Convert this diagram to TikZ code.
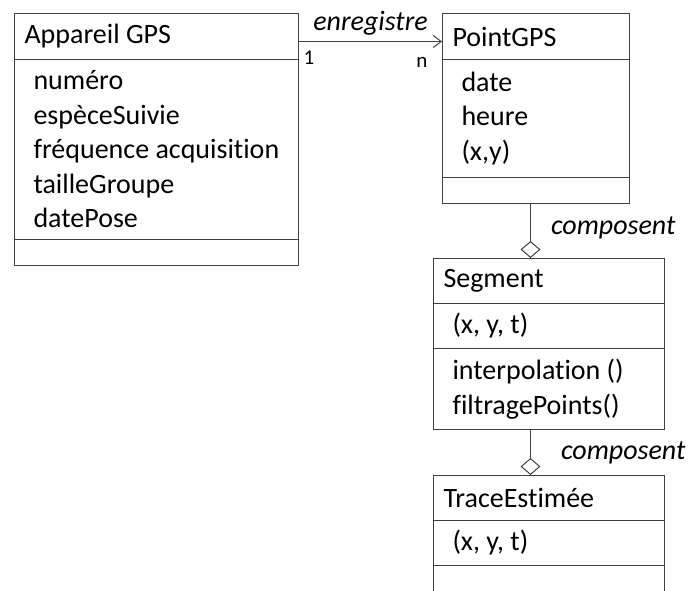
\documentclass[tikz,border=0pt]{standalone}
\usepackage{fontspec}
\setmainfont{Carlito}[Ligatures={NoCommon,NoContextual}]
\usepackage{tikz}
\usetikzlibrary{arrows.meta}
\newcommand{\umlsize}{\fontsize{28}{34.5}\selectfont}
\newcommand{\multsize}{\fontsize{21}{23}\selectfont}

\begin{document}
\begin{tikzpicture}[
  x=1pt, y=-1pt, line width=1pt,
  every node/.style={font=\umlsize, inner ysep=0pt},
  hd/.style={draw=black!75, anchor=north west, align=flush left,
             inner xsep=10pt, text width=#1},
  cp/.style={draw=black!75, anchor=north west, align=flush left,
             inner xsep=19pt, text width=#1},
  lbl/.style={font=\umlsize\itshape, inner sep=0pt},
  num/.style={font=\multsize, inner sep=0pt},
  >={Straight Barb[length=8pt,width=12pt]}
]
\clip (0,0) rectangle (692,590);
\node[hd=264pt, minimum height=46pt]  (appname) at (14,13)  {Appareil GPS};
\node[cp=246pt, minimum height=180pt] (appattr) at (14,59)  {numéro\\ espèceSuivie\\ fréquence acquisition\\ tailleGroupe\\ datePose};
\node[cp=246pt, minimum height=26pt]  (appops)  at (14,239) {};
\node[hd=167pt, minimum height=46pt]  (ptname)  at (442,13)  {PointGPS};
\node[cp=149pt, minimum height=118pt] (ptattr)  at (442,59)  {date\\ heure\\ (x,y)};
\node[cp=149pt, minimum height=26pt]  (ptops)   at (442,177) {};
\node[hd=211pt, minimum height=45pt]  (segname) at (433,258) {Segment};
\node[cp=193pt, minimum height=45pt]  (segattr) at (433,303) {(x, y, t)};
\node[cp=193pt, minimum height=81pt]  (segops)  at (433,348) {interpolation ()\\ filtragePoints()};
\node[hd=211pt, minimum height=45pt]  (trname)  at (433,475) {TraceEstimée};
\node[cp=193pt, minimum height=45pt]  (trattr)  at (433,520) {(x, y, t)};
\node[cp=193pt, minimum height=40pt]  (trops)   at (433,565) {};
\draw[->, black!75] ([yshift=-5pt]appname.east) -- ([yshift=-5pt]ptname.west)
  node[lbl, text=black, midway, above=6pt] {enregistre}
  node[num, text=black, pos=0, anchor=north west, xshift=4pt, yshift=-9pt] {1}
  node[num, text=black, pos=1, anchor=north east, xshift=-14pt, yshift=-15pt] {n};
\draw[-{Diamond[open,length=17pt,width=20pt]}, black!75] ([xshift=-5.5pt]ptops.south) -- ([xshift=-18.5pt]segname.north)
  node[lbl, text=black, midway, anchor=west, xshift=20pt, yshift=3pt] {composent};
\draw[-{Diamond[open,length=17pt,width=20pt]}, black!75] ([xshift=-18.5pt]segops.south) -- ([xshift=-18.5pt]trname.north)
  node[lbl, text=black, midway, anchor=west, xshift=30pt] {composent};
\end{tikzpicture}
\end{document}
